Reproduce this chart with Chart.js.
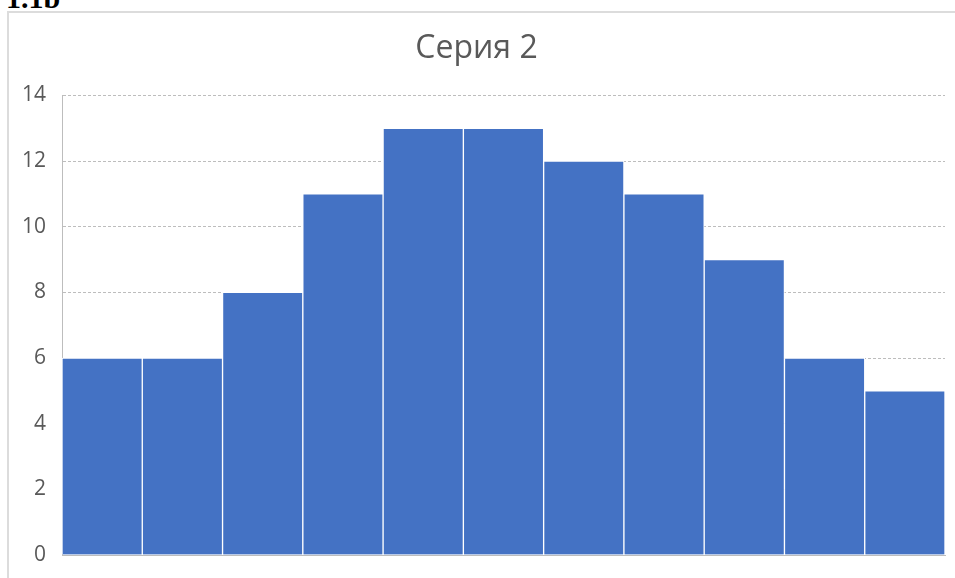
<!DOCTYPE html>
<html>
<head>
<meta charset="utf-8">
<script src="https://cdn.jsdelivr.net/npm/chart.js@4"></script>
<style>
  html, body { margin: 0; padding: 0; background: #fff; overflow: hidden; }
  #wrap { position: relative; width: 955px; height: 578px; overflow: hidden; }
  #frame { position: absolute; left: 7px; top: 11px; width: 1000px; height: 1000px; border: 2px solid #dcdcdc; box-sizing: border-box; }
  #label { position: absolute; left: 6px; top: -20px; font: bold 30px "Liberation Serif", "DejaVu Serif", serif; color: #000; line-height: 36px; }
  #c { position: absolute; left: 8px; top: 0; }
</style>
</head>
<body>
<div id="wrap">
  <div id="frame"></div>
  <div id="label">1.1b</div>
  <canvas id="c" width="955" height="578"></canvas>
</div>
<script>
const titleText = 'Серия 2';
const categories = ['1','2','3','4','5','6','7','8','9','10','11'];
const seriesValues = [6, 6, 8, 11, 13, 13, 12, 11, 9, 6, 5];
const yTicks = [0, 2, 4, 6, 8, 10, 12, 14];

new Chart(document.getElementById('c'), {
  type: 'bar',
  data: {
    labels: categories,
    datasets: [{
      label: titleText,
      data: seriesValues,
      backgroundColor: '#4472C4',
      borderColor: '#ffffff',
      borderWidth: 1,
      borderSkipped: 'bottom',
      categoryPercentage: 1.0,
      barPercentage: 1.0
    }]
  },
  options: {
    responsive: false,
    animation: false,
    layout: { padding: { left: 0, right: 18, top: 0, bottom: 0 } },
    plugins: {
      legend: { display: false },
      tooltip: { enabled: false },
      title: {
        display: true,
        text: titleText,
        color: '#595959',
        font: { family: 'Open Sans, Liberation Sans, sans-serif', size: 32, weight: 'normal' },
        padding: { top: 30, bottom: 27 }
      }
    },
    scales: {
      x: {
        ticks: { display: false },
        grid: { display: false },
        border: { display: true, color: '#bdbdbd', dash: [3, 2] },
        afterFit: s => { s.height = 23; }
      },
      y: {
        min: 0,
        max: 14,
        afterBuildTicks: s => { s.ticks = yTicks.map(v => ({ value: v })); },
        ticks: {
          color: '#595959',
          font: { family: 'Open Sans, Liberation Sans, sans-serif', size: 21 },
          padding: 16
        },
        grid: { color: '#bdbdbd', drawTicks: false, lineWidth: 1 },
        border: { display: true, color: '#bdbdbd', dash: [3, 2] },
        afterFit: s => { s.width = 54; s.paddingTop = 0; s.paddingBottom = 0; }
      }
    }
  }
});
</script>
</body>
</html>
